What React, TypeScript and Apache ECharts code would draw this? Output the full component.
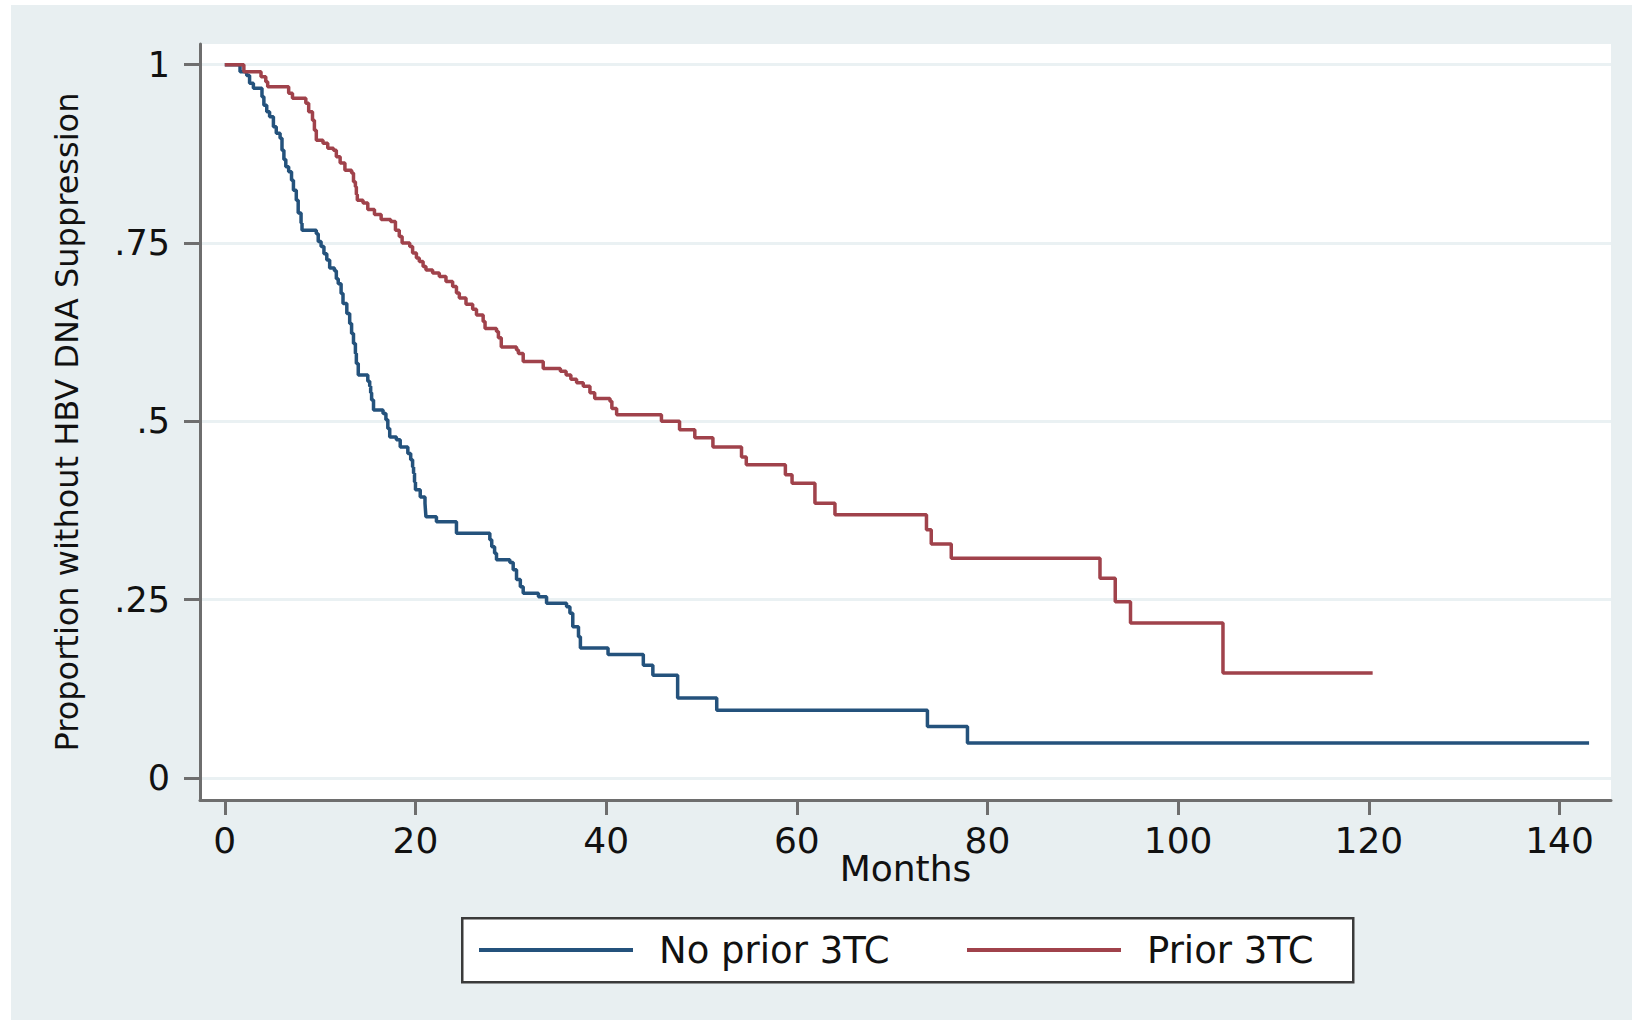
import React, { useEffect, useRef } from "react";
import * as echarts from "echarts";

// Kaplan-Meier step points: month of event and survival proportion after it
const noPriorMonths = [0, 1.6, 2.3, 2.6, 3.0, 3.9, 4.1, 4.4, 4.7, 5.1, 5.4, 5.8, 6.0, 6.2, 6.4, 6.7, 7.0, 7.2, 7.5, 7.7, 8.0, 8.1, 9.6, 9.8, 10.1, 10.4, 10.7, 11.0, 11.5, 11.7, 11.9, 12.2, 12.4, 12.8, 13.1, 13.3, 13.5, 13.7, 13.8, 14.0, 15.0, 15.2, 15.3, 15.4, 15.6, 16.6, 16.9, 17.1, 17.3, 18.0, 18.4, 19.2, 19.5, 19.7, 19.8, 19.9, 20.0, 20.5, 21.0, 21.05, 21.1, 22.2, 24.3, 27.8, 28.0, 28.3, 28.5, 29.9, 30.25, 30.6, 31.0, 31.3, 32.9, 33.75, 35.85, 36.2, 36.5, 37.1, 37.3, 40.2, 43.9, 44.9, 47.5, 51.6, 73.7, 77.9, 143.1];
const noPriorSurv = [1, 0.99, 0.985, 0.974, 0.967, 0.955, 0.943, 0.934, 0.927, 0.913, 0.904, 0.897, 0.88, 0.867, 0.857, 0.85, 0.838, 0.824, 0.81, 0.792, 0.778, 0.768, 0.763, 0.752, 0.745, 0.735, 0.726, 0.715, 0.711, 0.7, 0.693, 0.679, 0.665, 0.651, 0.637, 0.623, 0.609, 0.595, 0.581, 0.565, 0.556, 0.549, 0.54, 0.53, 0.516, 0.511, 0.502, 0.49, 0.478, 0.474, 0.464, 0.455, 0.446, 0.436, 0.427, 0.415, 0.404, 0.394, 0.385, 0.375, 0.366, 0.359, 0.343, 0.334, 0.324, 0.315, 0.306, 0.302, 0.292, 0.278, 0.268, 0.259, 0.254, 0.245, 0.24, 0.231, 0.212, 0.198, 0.182, 0.173, 0.158, 0.144, 0.112, 0.095, 0.072, 0.049, 0.049];

const priorMonths = [0, 2.0, 3.8, 4.3, 4.5, 6.7, 7.1, 8.5, 8.8, 9.2, 9.4, 9.6, 10.3, 10.8, 11.4, 11.7, 12.1, 12.6, 13.3, 13.5, 13.7, 13.8, 13.9, 14.5, 15.0, 15.7, 16.4, 17.4, 17.9, 18.3, 18.6, 19.4, 19.7, 20.1, 20.4, 20.8, 21.1, 21.8, 22.5, 23.2, 23.9, 24.3, 24.6, 25.3, 26.0, 26.4, 27.1, 27.3, 28.5, 28.7, 29.0, 30.6, 30.8, 31.3, 33.4, 35.2, 35.8, 36.3, 36.9, 37.6, 38.3, 38.8, 40.4, 40.6, 41.1, 45.8, 47.7, 49.3, 51.2, 54.2, 54.7, 58.8, 59.5, 61.9, 64.0, 73.6, 74.1, 76.2, 91.8, 93.4, 95.0, 104.7, 120.4];
const priorSurv = [1, 0.99, 0.983, 0.976, 0.969, 0.96, 0.953, 0.946, 0.934, 0.922, 0.908, 0.894, 0.89, 0.883, 0.88, 0.871, 0.862, 0.852, 0.848, 0.836, 0.829, 0.818, 0.81, 0.806, 0.797, 0.79, 0.783, 0.78, 0.768, 0.759, 0.75, 0.745, 0.736, 0.729, 0.724, 0.717, 0.712, 0.708, 0.703, 0.696, 0.689, 0.68, 0.673, 0.664, 0.657, 0.649, 0.64, 0.63, 0.626, 0.617, 0.604, 0.6, 0.595, 0.584, 0.574, 0.57, 0.565, 0.559, 0.554, 0.549, 0.54, 0.532, 0.528, 0.518, 0.509, 0.5, 0.488, 0.477, 0.464, 0.45, 0.439, 0.425, 0.413, 0.385, 0.369, 0.348, 0.328, 0.308, 0.28, 0.247, 0.217, 0.147, 0.147];

const seriesNames = ["No prior 3TC", "Prior 3TC"];
const xTicks = [0, 20, 40, 60, 80, 100, 120, 140];
const yTicks = [0, 0.25, 0.5, 0.75, 1];
const yTickLabels = ["0", ".25", ".5", ".75", "1"];
const xTitle = "Months";
const yTitle = "Proportion without HBV DNA Suppression";

const FONT = "DejaVu Sans";
const BLUE = "#24527c";
const RED = "#a0424b";
const BG = "#e8eff1";
const AXIS = "#6e6e6e";

export default function App() {
  const ref = useRef<HTMLDivElement>(null);

  useEffect(() => {
    if (!ref.current) return;
    const chart = echarts.init(ref.current, undefined, { renderer: "svg" });
    const zip = (xs: number[], ys: number[]) => xs.map((x, i) => [x, ys[i]]);

    chart.setOption({
      animation: false,
      backgroundColor: BG,
      textStyle: { fontFamily: FONT },
      graphic: [
        { type: "rect", left: 0, top: 0, shape: { width: 1632, height: 5 }, style: { fill: "#ffffff" } },
        { type: "rect", left: 0, top: 0, shape: { width: 11, height: 1020 }, style: { fill: "#ffffff" } },
        {
          type: "rect",
          left: 461,
          top: 917,
          shape: { width: 891, height: 64 },
          style: { fill: "#ffffff", stroke: "#3a3a3a", lineWidth: 2.5 },
          z: 0,
        },
      ],
      grid: {
        left: 200,
        right: 21,
        top: 44,
        bottom: 220,
        show: true,
        backgroundColor: "#ffffff",
        borderWidth: 0,
      },
      legend: [
        {
          data: [seriesNames[0]],
          left: 479,
          top: 930,
          padding: 0,
          icon: "rect",
          itemWidth: 154,
          itemHeight: 4,
          textStyle: { fontFamily: FONT, fontSize: 37, color: "#111", lineHeight: 40, padding: [0, 0, 0, 21] },
        },
        {
          data: [seriesNames[1]],
          left: 967,
          top: 930,
          padding: 0,
          icon: "rect",
          itemWidth: 154,
          itemHeight: 4,
          textStyle: { fontFamily: FONT, fontSize: 37, color: "#111", lineHeight: 40, padding: [0, 0, 0, 21] },
        },
      ],
      xAxis: {
        type: "value",
        min: -2.6,
        max: 145.4,
        name: xTitle,
        nameLocation: "middle",
        nameGap: 50,
        nameMoveOverlap: false,
        nameTextStyle: { fontFamily: FONT, fontSize: 36, color: "#111" },
        axisLine: { show: true, onZero: false, lineStyle: { color: AXIS, width: 3 } },
        axisTick: { show: true, length: 15, lineStyle: { color: AXIS, width: 3 }, customValues: xTicks },
        axisLabel: {
          customValues: xTicks,
          margin: 22,
          fontFamily: FONT,
          fontSize: 36,
          color: "#111",
          formatter: (v: number) => String(v),
        },
        splitLine: { show: false },
      },
      yAxis: {
        type: "value",
        min: -0.031,
        max: 1.029,
        name: yTitle,
        nameLocation: "middle",
        nameRotate: 90,
        nameGap: 117,
        nameMoveOverlap: false,
        nameTextStyle: { fontFamily: FONT, fontSize: 32, color: "#111" },
        axisLine: { show: true, onZero: false, lineStyle: { color: AXIS, width: 3 } },
        axisTick: { show: true, length: 16, lineStyle: { color: AXIS, width: 3 }, customValues: yTicks },
        axisLabel: {
          customValues: yTicks,
          margin: 30,
          fontFamily: FONT,
          fontSize: 35,
          color: "#111",
          formatter: (v: number) => {
            const i = yTicks.findIndex((t) => Math.abs(t - v) < 1e-9);
            return i >= 0 ? yTickLabels[i] : "";
          },
        },
        splitLine: { show: true, lineStyle: { color: "#eaf1f3", width: 3 } },
      },
      series: [
        {
          name: seriesNames[0],
          type: "line",
          step: "end",
          symbol: "none",
          data: zip(noPriorMonths, noPriorSurv),
          lineStyle: { color: BLUE, width: 3.5 },
          itemStyle: { color: BLUE },
        },
        {
          name: seriesNames[1],
          type: "line",
          step: "end",
          symbol: "none",
          data: zip(priorMonths, priorSurv),
          lineStyle: { color: RED, width: 3.5 },
          itemStyle: { color: RED },
        },
      ],
    });
    return () => chart.dispose();
  }, []);

  return (
    <div
      ref={ref}
      style={{ position: "fixed", left: 0, top: 0, width: 1632, height: 1020 }}
    />
  );
}
